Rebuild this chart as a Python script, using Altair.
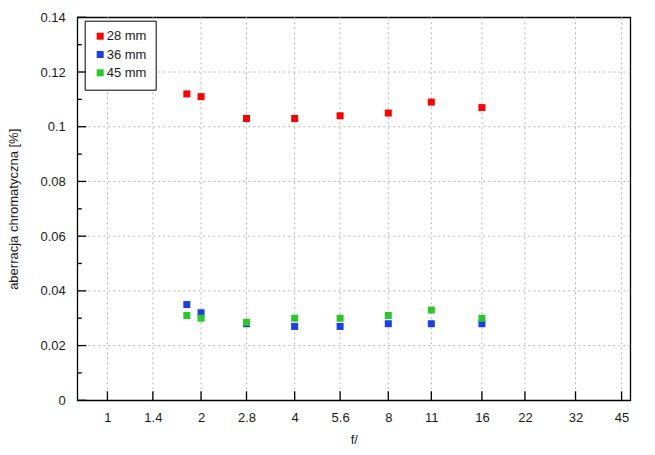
import altair as alt
import pandas as pd

# ---- data ----
f_numbers = [1.8, 2, 2.8, 4, 5.6, 8, 11, 16]
ca_28mm = [0.112, 0.111, 0.103, 0.103, 0.104, 0.105, 0.109, 0.107]
ca_36mm = [0.035, 0.032, 0.028, 0.027, 0.027, 0.028, 0.028, 0.028]
ca_45mm = [0.031, 0.030, 0.0285, 0.030, 0.030, 0.031, 0.033, 0.030]
series_names = ["28 mm", "36 mm", "45 mm"]
series_colors = ["#ff0000", "#1b3fe6", "#26c926"]

x_ticks = [1, 1.4, 2, 2.8, 4, 5.6, 8, 11, 16, 22, 32, 45]
y_major = [0, 0.02, 0.04, 0.06, 0.08, 0.1, 0.12, 0.14]
y_minor = [0.01, 0.03, 0.05, 0.07, 0.09, 0.11, 0.13]
x_domain = [0.8, 48]
y_domain = [0, 0.14]

rows = []
for name, vals in zip(series_names, [ca_28mm, ca_36mm, ca_45mm]):
    for f, v in zip(f_numbers, vals):
        rows.append({"f": f, "ca": v, "series": name})
df = pd.DataFrame(rows)

W, H = 553, 383
FONT = "Liberation Sans"
TXT = "#1a1a1a"

xscale = alt.Scale(type="log", domain=x_domain, nice=False)
yscale = alt.Scale(domain=y_domain, nice=False, zero=False)

x_axis = alt.Axis(values=x_ticks, format="~g", title="f/", grid=False, ticks=False,
                  domain=False, labelPadding=11, titlePadding=9)
y_axis = alt.Axis(values=y_major, format="~g", title="aberracja chromatyczna [%]",
                  grid=False, ticks=False, domain=False, labelPadding=12, titlePadding=19)

grid_color = "#b4b4b4"

x_grid = alt.Chart(pd.DataFrame({"f": x_ticks})).mark_rule(
    color=grid_color, strokeDash=[2, 3], strokeWidth=1
).encode(x=alt.X("f:Q", scale=xscale, axis=x_axis))

y_grid = alt.Chart(pd.DataFrame({"ca": y_major[1:-1]})).mark_rule(
    color=grid_color, strokeDash=[2, 3], strokeWidth=1
).encode(y=alt.Y("ca:Q", scale=yscale, axis=y_axis))

x_tick_marks = alt.Chart(pd.DataFrame({"f": x_ticks})).mark_rule(
    color="black", strokeWidth=1.3
).encode(x=alt.X("f:Q", scale=xscale, axis=x_axis), y=alt.value(H), y2=alt.value(H - 9))

y_tick_major = alt.Chart(pd.DataFrame({"ca": y_major})).mark_rule(
    color="black", strokeWidth=1.3
).encode(y=alt.Y("ca:Q", scale=yscale, axis=y_axis), x=alt.value(0), x2=alt.value(9))

y_tick_minor = alt.Chart(pd.DataFrame({"ca": y_minor})).mark_rule(
    color="black", strokeWidth=1.3
).encode(y=alt.Y("ca:Q", scale=yscale, axis=y_axis), x=alt.value(0), x2=alt.value(4.5))

points = alt.Chart(df).mark_square(size=49, opacity=1, filled=True).encode(
    x=alt.X("f:Q", scale=xscale, axis=x_axis),
    y=alt.Y("ca:Q", scale=yscale, axis=y_axis),
    color=alt.Color(
        "series:N",
        scale=alt.Scale(domain=series_names, range=series_colors),
        legend=alt.Legend(
            orient="none", legendX=7.4, legendY=3.4, title=None,
            fillColor="white", strokeColor="black", padding=9,
            symbolType="square", symbolSize=49, symbolStrokeWidth=0, symbolOpacity=1,
            labelFontSize=13, labelFont=FONT, labelColor=TXT, labelOffset=0, rowPadding=4.3,
        ),
    ),
)

chart = alt.layer(x_grid, y_grid, x_tick_marks, y_tick_major, y_tick_minor, points).properties(
    width=W, height=H,
    autosize=alt.AutoSizeParams(type="none"),
    padding={"left": 77.3, "top": 17.3, "right": 24.7, "bottom": 54.7},
).configure_view(
    stroke="black", strokeWidth=1.3
).configure_axis(
    labelFont=FONT, labelFontSize=13, labelColor=TXT,
    titleFont=FONT, titleFontSize=13, titleFontWeight="normal", titleColor=TXT,
)

chart.save("out.html", embed_options={"renderer": "svg", "actions": False})
